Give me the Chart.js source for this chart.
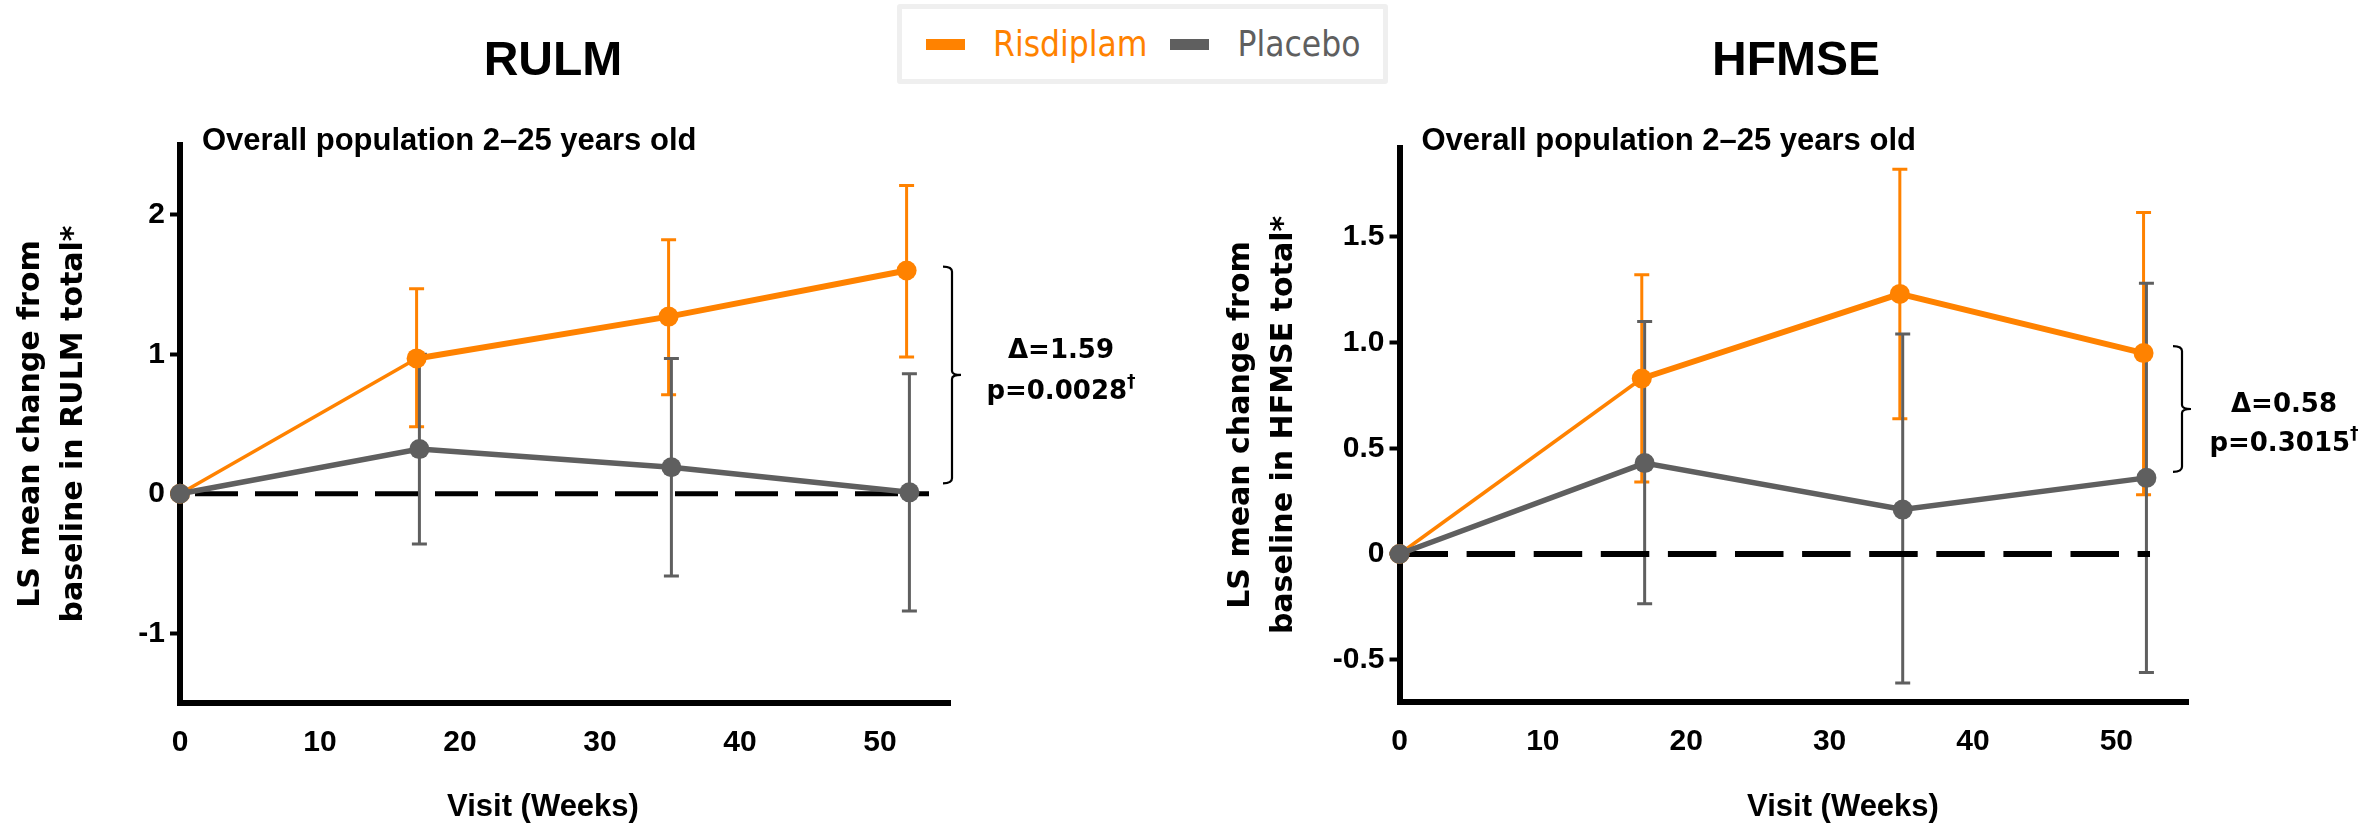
<!DOCTYPE html>
<html>
<head>
<meta charset="utf-8">
<script src="https://cdn.jsdelivr.net/npm/chart.js@4.4.1/dist/chart.umd.min.js"></script>
<style>
  html, body { margin: 0; padding: 0; background: #fff; }
  body { width: 2379px; height: 826px; position: relative; overflow: hidden; }
  #c1 { position: absolute; left: 0; top: 0; }
  #c2 { position: absolute; left: 1190px; top: 0; }
  #legend { position: absolute; left: 897px; top: 4px; width: 491px; height: 80px; box-sizing: border-box;
            border: 5px solid #efefef; border-radius: 3px; background: #fff;
            font-family: "Liberation Sans Narrow", "DejaVu Sans Condensed", sans-serif; font-size: 35px; }
  #legend .sw { position: absolute; top: 30px; width: 39px; height: 11px; }
  #legend .lb { position: absolute; top: 18px; line-height: 35px; white-space: nowrap; }
</style>
</head>
<body>
<canvas id="c1" width="1190" height="826"></canvas>
<canvas id="c2" width="1189" height="826"></canvas>
<div id="legend"></div>
<script>
// ---------------- data ----------------
const seriesNames = ['Risdiplam', 'Placebo'];
const risdiplamWeeks = [0, 16.9, 34.9, 51.9];
const placeboWeeks   = [0, 17.1, 35.1, 52.1];

const rulmRisdiplam     = [0, 0.97, 1.27, 1.60];
const rulmRisdiplamLow  = [0, 0.48, 0.71, 0.98];
const rulmRisdiplamHigh = [0, 1.47, 1.82, 2.21];
const rulmPlacebo       = [0, 0.32, 0.19, 0.01];
const rulmPlaceboLow    = [0, -0.36, -0.59, -0.84];
const rulmPlaceboHigh   = [0, 1.00, 0.97, 0.86];

const hfmseRisdiplam     = [0, 0.83, 1.23, 0.95];
const hfmseRisdiplamLow  = [0, 0.34, 0.64, 0.28];
const hfmseRisdiplamHigh = [0, 1.32, 1.82, 1.615];
const hfmsePlacebo       = [0, 0.43, 0.21, 0.36];
const hfmsePlaceboLow    = [0, -0.235, -0.61, -0.56];
const hfmsePlaceboHigh   = [0, 1.10, 1.04, 1.28];

const rulmZeroLineX  = [0, 53.5];
const hfmseZeroLineX = [0, 52.35];

const xTickValues = [0, 10, 20, 30, 40, 50];
const xTickLabels = ['0', '10', '20', '30', '40', '50'];
const rulmYTickValues = [-1, 0, 1, 2];
const rulmYTickLabels = ['-1', '0', '1', '2'];
const hfmseYTickValues = [-0.5, 0, 0.5, 1.0, 1.5];
const hfmseYTickLabels = ['-0.5', '0', '0.5', '1.0', '1.5'];

const panelTitles = ['RULM', 'HFMSE'];
const subtitleText = 'Overall population 2\u201325 years old';
const xAxisTitle = 'Visit (Weeks)';
const rulmYTitle  = ['LS mean change from', 'baseline in RULM total*'];
const hfmseYTitle = ['LS mean change from', 'baseline in HFMSE total*'];
const rulmDelta  = ['\u0394=1.59', 'p=0.0028'];
const hfmseDelta = ['\u0394=0.58', 'p=0.3015'];

// ---------------- styles ----------------
const ORANGE = '#FF8200';
const GREY = '#5F5F5F';
const TICK_FONT = { family: '"Liberation Sans", Arial, sans-serif', size: 30, weight: 'bold' };

function pts(xs, ys) { return xs.map((x, i) => ({ x: x, y: ys[i] })); }

const errorBarPlugin = {
  id: 'errorBars',
  beforeDatasetsDraw(chart, args, opts) {
    const ctx = chart.ctx, xs = chart.scales.x, ys = chart.scales.y;
    ctx.save();
    ctx.lineCap = 'butt';
    for (const b of opts.bars) {
      ctx.strokeStyle = b.color;
      ctx.lineWidth = 3;
      b.x.forEach((xv, i) => {
        if (b.lo[i] === b.hi[i]) return;
        const px = xs.getPixelForValue(xv);
        const pl = ys.getPixelForValue(b.lo[i]);
        const ph = ys.getPixelForValue(b.hi[i]);
        ctx.beginPath();
        ctx.moveTo(px, pl); ctx.lineTo(px, ph);
        ctx.moveTo(px - 7.5, pl); ctx.lineTo(px + 7.5, pl);
        ctx.moveTo(px - 7.5, ph); ctx.lineTo(px + 7.5, ph);
        ctx.stroke();
      });
    }
    ctx.restore();
  }
};

const panelTextPlugin = {
  id: 'panelText',
  afterDraw(chart, args, o) {
    const ctx = chart.ctx, a = chart.chartArea, ys = chart.scales.y;
    ctx.save();
    ctx.fillStyle = '#000';
    ctx.textBaseline = 'alphabetic';
    ctx.font = 'bold 48px "Liberation Sans", Arial, sans-serif';
    ctx.textAlign = 'center';
    ctx.fillText(o.title, o.titleX, 75);
    ctx.font = 'bold 31px "Liberation Sans", Arial, sans-serif';
    ctx.textAlign = 'left';
    ctx.fillText(o.subtitle, a.left + 22, 150);
    ctx.textAlign = 'center';
    ctx.fillText(o.xTitle, o.xTitleX, 816);

    // brace
    const bx = a.right + o.braceDx;
    const top = ys.getPixelForValue(o.braceTop) + o.braceTopDy;
    const bot = ys.getPixelForValue(o.braceBottom) + o.braceBottomDy;
    const mid = (top + bot) / 2;
    ctx.strokeStyle = '#000';
    ctx.lineWidth = 2.2;
    ctx.beginPath();
    ctx.moveTo(bx - 9, top);
    ctx.quadraticCurveTo(bx, top, bx, top + 5);
    ctx.lineTo(bx, mid - 4);
    ctx.quadraticCurveTo(bx, mid, bx + 9, mid);
    ctx.quadraticCurveTo(bx, mid, bx, mid + 4);
    ctx.lineTo(bx, bot - 5);
    ctx.quadraticCurveTo(bx, bot, bx - 9, bot);
    ctx.stroke();

    // delta text
    const cx = bx + o.textDx;
    ctx.textBaseline = 'middle';
    ctx.font = 'bold 26px "DejaVu Sans", sans-serif';
    ctx.textAlign = 'center';
    ctx.fillText(o.delta[0], cx, mid + o.textDy1);
    const w = ctx.measureText(o.delta[1]).width;
    ctx.font = 'bold 17px "DejaVu Sans", sans-serif';
    const wd = ctx.measureText('\u2020').width;
    const sx = cx - (w + wd) / 2;
    ctx.textAlign = 'left';
    ctx.font = 'bold 26px "DejaVu Sans", sans-serif';
    ctx.fillText(o.delta[1], sx, mid + o.textDy2);
    ctx.font = 'bold 17px "DejaVu Sans", sans-serif';
    ctx.fillText('\u2020', sx + w, mid + o.textDy2 - 9);
    ctx.restore();
  }
};

function makePanel(canvasId, p) {
  return new Chart(document.getElementById(canvasId), {
    type: 'line',
    data: {
      datasets: [
        {
          label: seriesNames[0], data: pts(risdiplamWeeks, p.ris),
          borderColor: ORANGE, backgroundColor: ORANGE, borderWidth: 6,
          segment: { borderWidth: c => (c.p0DataIndex === 0 ? 3.5 : 6) },
          pointRadius: 10, pointBorderWidth: 0, pointBackgroundColor: ORANGE,
          clip: false, order: 2, tension: 0
        },
        {
          label: seriesNames[1], data: pts(placeboWeeks, p.pla),
          borderColor: GREY, backgroundColor: GREY, borderWidth: 5.5,
          pointRadius: 10, pointBorderWidth: 0, pointBackgroundColor: GREY,
          clip: false, order: 1, tension: 0
        },
        {
          label: 'zero', data: pts(p.zeroX, [0, 0]),
          borderColor: '#000', borderWidth: p.dashWidth, borderDash: p.dash, borderDashOffset: p.dashOffset,
          pointRadius: 0, clip: false, order: 3
        }
      ]
    },
    options: {
      responsive: false, animation: false, devicePixelRatio: 1, events: [],
      layout: { padding: { left: 0, top: p.areaTop, right: p.padRight, bottom: 0 } },
      scales: {
        x: {
          type: 'linear', min: 0, max: 55,
          afterBuildTicks: s => { s.ticks = xTickValues.map(v => ({ value: v })); },
          afterFit: s => { s.height = 826 - p.areaBottom; },
          ticks: { callback: v => xTickLabels[xTickValues.indexOf(v)], color: '#000', font: TICK_FONT,
                   padding: 22, maxRotation: 0, autoSkip: false },
          grid: { display: false, drawOnChartArea: false, drawTicks: false },
          border: { display: true, color: '#000', width: 6 }
        },
        y: {
          type: 'linear', min: p.yMin, max: p.yMax,
          afterBuildTicks: s => { s.ticks = p.yTicks.map(v => ({ value: v })); },
          afterFit: s => { s.width = p.areaLeft; },
          ticks: { callback: v => p.yLabels[p.yTicks.indexOf(v)], color: '#000', font: TICK_FONT, padding: 5, autoSkip: false },
          grid: { display: true, drawOnChartArea: false, drawTicks: true, tickLength: 10, tickWidth: 4,
                  tickColor: '#000', color: '#000' },
          border: { display: true, color: '#000', width: 6 },
          title: { display: true, text: p.yTitle, color: '#000',
                   font: { family: '"DejaVu Sans", sans-serif', size: 30, weight: 'bold', lineHeight: 1.45 },
                   padding: { top: p.yTitlePad, bottom: 0 } }
        }
      },
      plugins: {
        legend: { display: false },
        tooltip: { enabled: false },
        title: { display: false },
        errorBars: {
          bars: [
            { x: risdiplamWeeks, lo: p.risLo, hi: p.risHi, color: ORANGE },
            { x: placeboWeeks, lo: p.plaLo, hi: p.plaHi, color: GREY }
          ]
        },
        panelText: {
          title: p.title, titleX: p.titleX, subtitle: subtitleText, xTitle: xAxisTitle, xTitleX: p.xTitleX,
          braceTop: p.ris[3], braceBottom: p.pla[3], braceDx: p.braceDx,
          braceTopDy: p.braceTopDy, braceBottomDy: p.braceBottomDy,
          delta: p.delta, textDx: p.textDx, textDy1: p.textDy1, textDy2: p.textDy2
        }
      }
    },
    plugins: [errorBarPlugin, panelTextPlugin]
  });
}

makePanel('c1', {
  ris: rulmRisdiplam, risLo: rulmRisdiplamLow, risHi: rulmRisdiplamHigh,
  pla: rulmPlacebo, plaLo: rulmPlaceboLow, plaHi: rulmPlaceboHigh,
  zeroX: rulmZeroLineX, dash: [43, 17], dashOffset: 45, dashWidth: 5,
  yMin: -1.5, yMax: 2.5, yTicks: rulmYTickValues, yLabels: rulmYTickLabels, yTitle: rulmYTitle, yTitlePad: 9,
  areaLeft: 180, areaTop: 145, areaBottom: 703, padRight: 240,
  title: panelTitles[0], titleX: 553, xTitleX: 543,
  delta: rulmDelta, braceDx: 2, braceTopDy: -4, braceBottomDy: -9, textDx: 109, textDy1: -24, textDy2: 17
});

makePanel('c2', {
  ris: hfmseRisdiplam, risLo: hfmseRisdiplamLow, risHi: hfmseRisdiplamHigh,
  pla: hfmsePlacebo, plaLo: hfmsePlaceboLow, plaHi: hfmsePlaceboHigh,
  zeroX: hfmseZeroLineX, dash: [48.5, 18.6], dashOffset: 0, dashWidth: 6,
  yMin: -0.7, yMax: 1.92, yTicks: hfmseYTickValues, yLabels: hfmseYTickLabels, yTitle: hfmseYTitle, yTitlePad: 29,
  areaLeft: 209.5, areaTop: 148, areaBottom: 702, padRight: 191,
  title: panelTitles[1], titleX: 606, xTitleX: 653,
  delta: hfmseDelta, braceDx: -6, braceTopDy: -7, braceBottomDy: -6, textDx: 102, textDy1: -4, textDy2: 35
});

// legend (shared, HTML)
const legend = document.getElementById('legend');
const legendItems = [
  { name: seriesNames[0], color: ORANGE, sw: 24, lb: 91 },
  { name: seriesNames[1], color: GREY, sw: 267.6, lb: 335.5 }
];
legendItems.forEach(it => {
  const s = document.createElement('div');
  s.className = 'sw'; s.style.left = it.sw + 'px'; s.style.background = it.color;
  legend.appendChild(s);
  const t = document.createElement('div');
  t.className = 'lb'; t.style.left = it.lb + 'px'; t.style.color = it.color; t.textContent = it.name;
  legend.appendChild(t);
});
</script>
</body>
</html>
